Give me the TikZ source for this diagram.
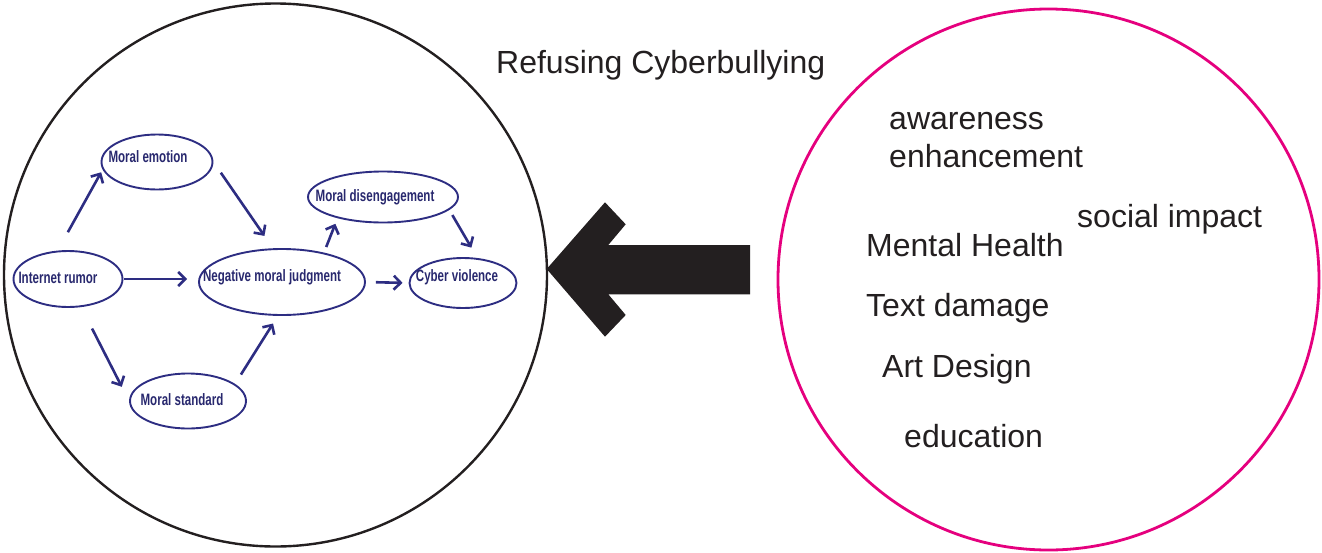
\documentclass[tikz,border=0pt]{standalone}
\usepackage{fontspec}
\setmainfont{Liberation Sans}
\newfontfamily\narrowfont{Liberation Sans}[FakeStretch=0.7]
\usetikzlibrary{arrows.meta, shapes.geometric}
\definecolor{inkgray}{HTML}{231F20}
\definecolor{ringpink}{HTML}{E5007E}
\definecolor{navyline}{RGB}{45,45,130}
\definecolor{navytext}{RGB}{40,40,110}

\tikzset{
  oval/.style={ellipse, draw=navyline, line width=1.9pt, inner sep=0pt},
  ovaltext/.style={text=navytext, inner sep=0pt, font=\narrowfont\bfseries\fontsize{16.5}{19}\selectfont},
  flow/.style={draw=navyline, line width=2.6pt, -{Straight Barb[length=7pt, width=14pt]}},
  keyword/.style={anchor=base west, text=inkgray, inner sep=0pt, font=\fontsize{32}{38}\selectfont}
}

\begin{document}
\begin{tikzpicture}[x=1pt, y=-1pt]
  \useasboundingbox (0,0) rectangle (1322,552);

  % Rings
  \draw[inkgray, line width=2.4pt] (275.5,275) circle (271.5pt);
  \draw[ringpink, line width=2.8pt] (1048.5,279.5) circle (270.5pt);

  % Ovals of the model
  \node[oval, minimum width=111pt, minimum height=55pt,
    label={[ovaltext, xshift=-9pt, yshift=5pt]center:Moral emotion}] (emotion) at (157,162) {};
  \node[oval, minimum width=109pt, minimum height=56pt,
    label={[ovaltext, xshift=-10pt, yshift=1pt]center:Internet rumor}] (rumor) at (68,279) {};
  \node[oval, minimum width=116pt, minimum height=55pt,
    label={[ovaltext, xshift=-6pt, yshift=1pt]center:Moral standard}] (standard) at (188,401) {};
  \node[oval, minimum width=166pt, minimum height=66pt,
    label={[ovaltext, xshift=-10pt, yshift=5pt]center:Negative moral judgment}] (negative) at (282,282) {};
  \node[oval, minimum width=150pt, minimum height=51pt,
    label={[ovaltext, xshift=-8pt]center:Moral disengagement}] (diseng) at (383,197) {};
  \node[oval, minimum width=107pt, minimum height=50pt,
    label={[ovaltext, xshift=-6pt, yshift=6pt]center:Cyber violence}] (cyber) at (463,283) {};

  % Paths between ovals
  \draw[flow, shorten <=21pt, shorten >=3pt] (rumor.110) -- (emotion.188);
  \draw[flow, shorten <=13pt, shorten >=15pt] (emotion.east) -- (negative.105);
  \draw[flow, shorten <=1pt, shorten >=11pt] (rumor.east) -- (rumor.east -| negative.west);
  \draw[flow, shorten <=24pt, shorten >=16pt] (rumor.-65) -- (standard.west);
  \draw[flow, shorten <=11pt, shorten >=9pt] (standard.20) -- (negative.-97);
  \draw[flow, shorten <=6pt, shorten >=6pt] (negative.35) -- (diseng.-155);
  \draw[flow, shorten <=6pt, shorten >=12pt] (diseng.-11) -- (cyber.60);
  \draw[flow, shorten <=10pt, shorten >=6pt] (negative.east) -- (cyber.west);

  % Big arrow
  \fill[inkgray] (546.7,269) -- (605,202.3) -- (625.7,224.3) -- (608.3,245)
    -- (750,245) -- (750,294.3) -- (608.3,294.3) -- (625.7,315)
    -- (605,336.7) -- cycle;

  % Texts
  \node[keyword] (title) at (496,73) {Refusing Cyberbullying};
  \node[keyword] (awareness) at (889,129) {awareness};
  \node[keyword] (enhance) at (889,167) {enhancement};
  \node[keyword] (social) at (1077,227) {social impact};
  \node[keyword] (mental) at (866,256) {Mental Health};
  \node[keyword] (damage) at (866,316) {Text damage};
  \node[keyword] (design) at (882,377) {Art Design};
  \node[keyword] (education) at (904,447) {education};

\end{tikzpicture}
\end{document}
